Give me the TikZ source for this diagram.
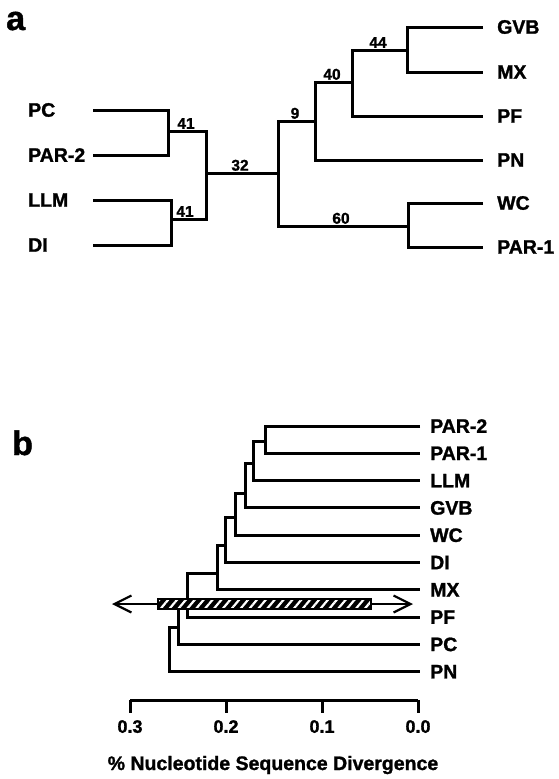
\documentclass[tikz,border=0pt]{standalone}
\usepackage{fontspec}
\setmainfont{Liberation Sans}[BoldFeatures={FakeBold=1.3}]
\usepackage{tikz}
\usetikzlibrary{arrows.meta,patterns.meta}
\tikzset{
  rama/.style={
    line width=3pt,
    line join=miter
  },
  taxon/.style={
    anchor=west,
    inner sep=0pt,
    font=\bfseries\fontsize{19.5}{20}\selectfont
  },
  soporte/.style={
    anchor=south,
    inner sep=0pt,
    font=\bfseries\fontsize{15.5}{16}\selectfont
  },
  panel/.style={
    anchor=base west,
    inner sep=0pt,
    font=\bfseries\fontsize{34}{36}\selectfont
  },
  escala/.style={
    anchor=north,
    inner sep=0pt,
    font=\bfseries\fontsize{18}{18}\selectfont
  },
  rango/.style={
    draw=black,
    line width=2pt,
    preaction={fill=black},
    pattern={Lines[angle=50,distance=6.8pt,line width=2.2pt]},
    pattern color=white,
    minimum width=213pt,
    minimum height=10pt,
    inner sep=0pt
  },
  flecha/.style={
    {Straight Barb[length=17pt,width=17pt]}-{Straight Barb[length=17pt,width=17pt]},
    line width=2.2pt
  }
}

\begin{document}
\begin{tikzpicture}[x=1pt,y=-1pt]
\useasboundingbox (0,0) rectangle (558,779);

% panel a
\node[panel] (pa) at (6,30) {a};
\coordinate (pc) at (93,110);
\coordinate (par2) at (93,155);
\coordinate (llm) at (93,200);
\coordinate (di) at (93,245);
\node[taxon] (pc-t) at (28,110) {PC};
\node[taxon] (par2-t) at (28,155) {PAR-2};
\node[taxon] (llm-t) at (28,200) {LLM};
\node[taxon] (di-t) at (28,245) {DI};
\coordinate (n1) at (168,131);
\coordinate (n2) at (171,219);
\coordinate (n3) at (206,173);
\coordinate (r0) at (278,173);
\coordinate (r1) at (315,121);
\coordinate (r2) at (408,226);
\coordinate (r3) at (352,82);
\coordinate (r4) at (407,50);
\foreach \n/\t/\y in {gvb/GVB/27,mx/MX/72,pf/PF/116,pn/PN/160,wc/WC/203,par1/PAR-1/247}{
  \coordinate (\n) at (483,\y);
  \node[taxon] (\n-t) at (497,\y) {\t};
}
\draw[rama] (pc) -| (n1) |- (par2);
\draw[rama] (llm) -| (n2) |- (di);
\draw[rama] (n1) -| (n3) |- (n2);
\draw[rama] (n3) -- (r0);
\draw[rama] (r1) -| (r0) |- (r2);
\draw[rama] (r3) -| (r1) |- (pn);
\draw[rama] (r4) -| (r3) |- (pf);
\draw[rama] (gvb) -| (r4) |- (mx);
\draw[rama] (wc) -| (r2) |- (par1);
\node[soporte] (s1) at (186,129) {41};
\node[soporte] (s2) at (185,217) {41};
\node[soporte] (s3) at (240,171) {32};
\node[soporte] (s4) at (295,119) {9};
\node[soporte] (s5) at (332,80) {40};
\node[soporte] (s6) at (378,48) {44};
\node[soporte] (s7) at (341,224) {60};

% panel b
\node[panel] (pb) at (12,455) {b};
\foreach \n/\t [count=\i from 0] in {bpar2/PAR-2,bpar1/PAR-1,bllm/LLM,bgvb/GVB,bwc/WC,bdi/DI,bmx/MX,bpf/PF,bpc/PC,bpn/PN}{
  \coordinate (\n) at (420,{426+27.3*\i});
  \node[taxon] (\n-t) at (430,{426+27.3*\i}) {\t};
}
\coordinate (b1) at (265,441);
\coordinate (b2) at (253,463);
\coordinate (b3) at (245,493);
\coordinate (b4) at (235,517);
\coordinate (b5) at (225,545);
\coordinate (b6) at (217,573);
\coordinate (b7) at (187,600);
\coordinate (b8) at (178,627);
\coordinate (b9) at (169,650);
\draw[rama] (bpar2) -| (b1) |- (bpar1);
\draw[rama] (b1) -| (b2) |- (bllm);
\draw[rama] (b2) -| (b3) |- (bgvb);
\draw[rama] (b3) -| (b4) |- (bwc);
\draw[rama] (b4) -| (b5) |- (bdi);
\draw[rama] (b5) -| (b6) |- (bmx);
\draw[rama] (b6) -| (b7) |- (bpf);
\draw[rama] (b7) -| (b8) |- (bpc);
\draw[rama] (b8) -| (b9) |- (bpn);

% range of PF
\coordinate (izq) at (112,604);
\coordinate (der) at (413,604);
\draw[flecha] (izq) -- (der);
\node[rango] (pfrango) at (264.5,604) {};

% scale
\foreach \v [count=\i from 0] in {0.3,0.2,0.1,0.0}{
  \coordinate (t\i) at ({130+96*\i},700);
  \draw[rama] (t\i) -- ++(0,13);
  \node[escala] (e\i) at ({130+96*\i},720) {\v};
}
\draw[rama] (t0) -- (t3);
\node[font=\bfseries\fontsize{19.5}{20}\selectfont,inner sep=0pt] (titulo) at (273,765) {\% Nucleotide Sequence Divergence};
\end{tikzpicture}
\end{document}
